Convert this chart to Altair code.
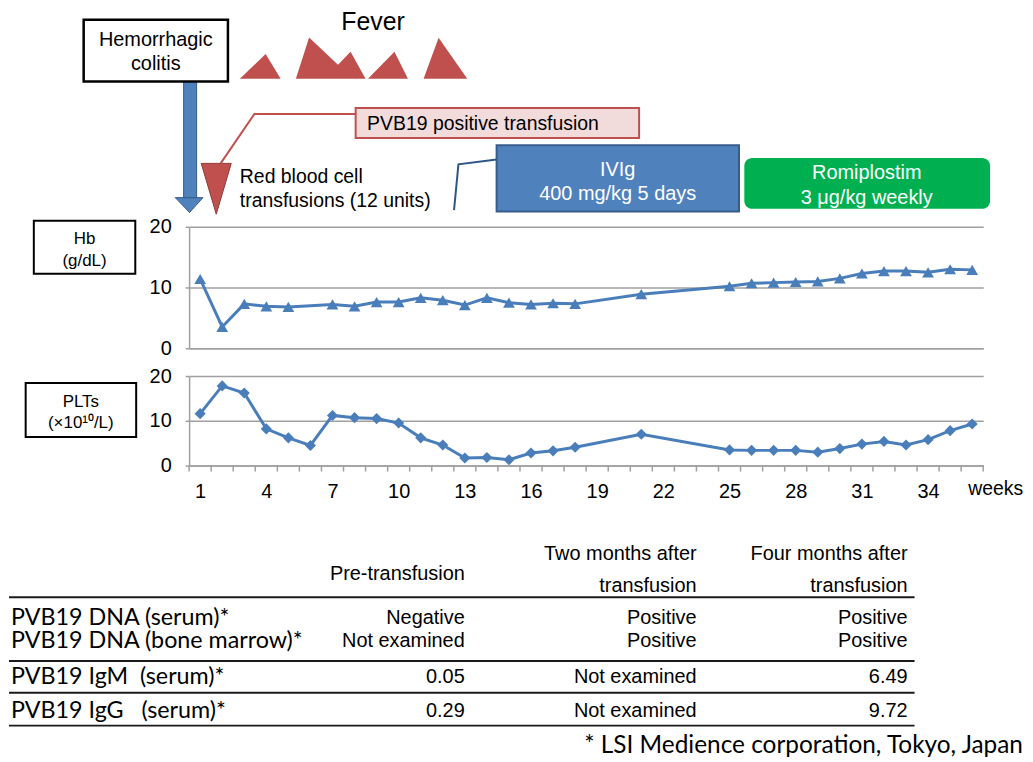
import altair as alt
import pandas as pd

# ---------------- data ----------------
hb_week = [1, 2, 3, 4, 5, 7, 8, 9, 10, 11, 12, 13, 14, 15, 16, 17, 18, 21,
           25, 26, 27, 28, 29, 30, 31, 32, 33, 34, 35, 36]
hb_value = [11.4, 3.5, 7.3, 6.9, 6.8, 7.2, 6.9, 7.6, 7.6, 8.3, 7.9, 7.1, 8.3, 7.5,
            7.2, 7.4, 7.3, 8.9, 10.2, 10.7, 10.8, 10.9, 11.0, 11.5, 12.3, 12.7,
            12.7, 12.5, 13.0, 12.9]
plt_week = [1, 2, 3, 4, 5, 6, 7, 8, 9, 10, 11, 12, 13, 14, 15, 16, 17, 18, 21,
            25, 26, 27, 28, 29, 30, 31, 32, 33, 34, 35, 36]
plt_value = [11.6, 17.8, 16.2, 8.2, 6.2, 4.5, 11.2, 10.7, 10.5, 9.5, 6.2, 4.6, 1.7,
             1.8, 1.3, 2.8, 3.3, 4.1, 7.0, 3.5, 3.4, 3.4, 3.4, 3.0, 3.8, 4.8, 5.4,
             4.6, 5.8, 7.8, 9.3]
x_label_weeks = [1, 4, 7, 10, 13, 16, 19, 22, 25, 28, 31, 34]
category_edges = [w + 0.5 for w in range(0, 37)]

# fever episodes: week and height of the fever curve
fever_episode = [1, 1, 1, 2, 2, 2, 2, 2, 3, 3, 3, 4, 4, 4]
fever_week = [2.80, 3.97, 4.65, 5.34, 5.94, 7.25, 7.82, 8.50, 8.61, 9.81, 10.42,
              11.13, 11.81, 13.11]
fever_level = [0, 25, 0, 0, 41.6, 14, 27.3, 0, 0, 27.3, 0, 0, 41.3, 0]

# treatments (start / end week)
ivig_weeks = [14.44, 25.43]
romi_weeks = [25.67, 36.81]

# table
col_header_1 = ["", "Two months after", "Four months after"]
col_header_2 = ["Pre-transfusion", "transfusion", "transfusion"]
row_labels = ["PVB19 DNA (serum)*", "PVB19 DNA (bone marrow)*",
              "PVB19 IgM\u00a0\u00a0(serum)*", "PVB19 IgG\u00a0\u00a0\u00a0(serum)*"]
pre_values = ["Negative", "Not examined", "0.05", "0.29"]
two_values = ["Positive", "Positive", "Not examined", "Not examined"]
four_values = ["Positive", "Positive", "6.49", "9.72"]
footnote = "* LSI Medience corporation, Tokyo, Japan"

# ---------------- style / layout ----------------
BLUE = "#4A7EBB"
BOXBLUE = "#4F81BD"
DARKBLUE = "#385D8A"
RED = "#C0504D"
GRID = "#A0A0A0"
FONT = "Liberation Sans"
TFONT = "Lato"

W = 798
ANN_H = 190
HB_H = 122
PLT_H = 90
TBL_H = 260
GAP = 28

xs = alt.Scale(domain=[0.5, 36.5], nice=False, zero=False)

# ---------------- annotation panel ----------------
ya = alt.Scale(domain=[0, ANN_H], reverse=True, nice=False, zero=False)
FEVER_BASE = 69.3

fever_df = pd.DataFrame({"ep": fever_episode, "week": fever_week, "level": fever_level})
fever = alt.Chart(fever_df).transform_calculate(
    top=f"{FEVER_BASE} - datum.level", base=f"{FEVER_BASE}"
).mark_area(color=RED, orient="vertical").encode(
    x=alt.X("week:Q", scale=xs, axis=None),
    y=alt.Y("top:Q", scale=ya, axis=None, stack=None),
    y2="base:Q",
    detail="ep:N",
)

boxes_df = pd.DataFrame({
    "x0": [0.25, -4.28, 8.05, ivig_weeks[0]],
    "x1": [0.84, 2.26, 20.90, ivig_weeks[1]],
    "y0": [70.3, 10, 98.7, 136],
    "y1": [188.7, 72, 128.7, 202.7],
    "fill": [BOXBLUE, "white", "#F2DCDB", BOXBLUE],
    "stroke": [DARKBLUE, "black", RED, DARKBLUE],
    "sw": [1, 2.5, 2, 2],
})
boxes = alt.Chart(boxes_df).mark_rect().encode(
    x=alt.X("x0:Q", scale=xs, axis=None), x2="x1:Q",
    y=alt.Y("y0:Q", scale=ya, axis=None), y2="y1:Q",
    fill=alt.Fill("fill:N", scale=None),
    stroke=alt.Stroke("stroke:N", scale=None),
    strokeWidth=alt.StrokeWidth("sw:Q", scale=None),
)

romi_df = pd.DataFrame({"x0": [romi_weeks[0]], "x1": [romi_weeks[1]], "y0": [149], "y1": [200]})
romi = alt.Chart(romi_df).mark_rect(color="#00B050", cornerRadius=8).encode(
    x=alt.X("x0:Q", scale=xs, axis=None), x2="x1:Q",
    y=alt.Y("y0:Q", scale=ya, axis=None), y2="y1:Q",
)

tri_df = pd.DataFrame({
    "id": ["arrow"] * 3 + ["rbc"] * 3,
    "x": [-0.13, 0.52, 1.13, 1.05, 1.73, 2.41],
    "top": [188.7] * 3 + [154.3] * 3,
    "tip": [188.7, 203.7, 188.7, 154.3, 205.3, 154.3],
    "fill": [BOXBLUE] * 3 + [RED] * 3,
    "stroke": [DARKBLUE] * 3 + ["#8C3836"] * 3,
})
tris = alt.Chart(tri_df).mark_area(orient="vertical", strokeWidth=1).encode(
    x=alt.X("x:Q", scale=xs, axis=None),
    y=alt.Y("top:Q", scale=ya, axis=None, stack=None),
    y2="tip:Q",
    detail="id:N",
    fill=alt.Fill("fill:N", scale=None),
    stroke=alt.Stroke("stroke:N", scale=None),
)

conn_df = pd.DataFrame({
    "id": ["pvb"] * 3 + ["ivig"] * 3,
    "x": [1.93, 3.46, 8.05, 12.51, 12.71, 14.44],
    "y": [154.3, 104.7, 104.7, 201.3, 155.3, 150.3],
    "col": [RED] * 3 + ["#2F5587"] * 3,
})
conns = alt.Chart(conn_df).mark_line(strokeWidth=2).encode(
    x=alt.X("x:Q", scale=xs, axis=None),
    y=alt.Y("y:Q", scale=ya, axis=None),
    detail="id:N",
    color=alt.Color("col:N", scale=None),
)

annc_df = pd.DataFrame({
    "x": [8.84, -1.01, -1.01, 19.93, 19.93, 31.22, 31.22],
    "y": [12.5, 30, 54, 161, 185, 164, 189],
    "text": ["Fever", "Hemorrhagic", "colitis", "IVIg", "400 mg/kg 5 days",
             "Romiplostim", "3 \u03bcg/kg weekly"],
    "fs": [25, 20, 20, 20, 20, 20, 20],
    "col": ["black", "black", "black", "white", "white", "white", "white"],
})
annc = alt.Chart(annc_df).mark_text(font=FONT, align="center", baseline="middle").encode(
    x=alt.X("x:Q", scale=xs, axis=None),
    y=alt.Y("y:Q", scale=ya, axis=None),
    text="text:N",
    size=alt.Size("fs:Q", scale=None),
    color=alt.Color("col:N", scale=None),
)
annl_df = pd.DataFrame({
    "x": [8.57, 2.80, 2.80],
    "y": [114.3, 167.7, 192],
    "text": ["PVB19 positive transfusion", "Red blood cell", "transfusions (12 units)"],
})
annl = alt.Chart(annl_df).mark_text(font=FONT, fontSize=19.5, align="left",
                                    baseline="middle", color="black").encode(
    x=alt.X("x:Q", scale=xs, axis=None),
    y=alt.Y("y:Q", scale=ya, axis=None),
    text="text:N",
)

ann = alt.layer(fever, tris, boxes, romi, conns, annc, annl).properties(width=W, height=ANN_H)

# ---------------- common axis styles ----------------
def y_axis():
    return alt.Axis(values=[0, 10, 20], title=None, grid=True, gridColor=GRID,
                    gridWidth=1.5, domainColor=GRID, domainWidth=1.5, tickColor=GRID,
                    tickSize=4, tickWidth=1.5, labelPadding=14, labelFontSize=20,
                    labelFont=FONT, labelColor="black")

def label_box(x0, x1, y0, y1, texts, ys, xc, yscale):
    bdf = pd.DataFrame({"x0": [x0], "x1": [x1], "y0": [y0], "y1": [y1]})
    b = alt.Chart(bdf).mark_rect(fill="white", stroke="black", strokeWidth=2).encode(
        x=alt.X("x0:Q", scale=xs), x2="x1:Q",
        y=alt.Y("y0:Q", scale=yscale), y2="y1:Q",
    )
    tdf = pd.DataFrame({"x": [xc] * len(texts), "y": ys, "text": texts})
    t = alt.Chart(tdf).mark_text(font=FONT, fontSize=17, color="black").encode(
        x=alt.X("x:Q", scale=xs), y=alt.Y("y:Q", scale=yscale), text="text:N",
    )
    return [b, t]

# ---------------- Hb panel ----------------
yh = alt.Scale(domain=[0, 20], nice=False, zero=False)
hb_df = pd.DataFrame({"week": hb_week, "hb": hb_value})
hb_line = alt.Chart(hb_df).mark_line(
    color=BLUE, strokeWidth=3,
    point=alt.OverlayMarkDef(shape="triangle-up", size=140, filled=True, fill=BLUE, strokeWidth=0),
).encode(
    x=alt.X("week:Q", scale=xs, axis=alt.Axis(title=None, labels=False, ticks=False, grid=False,
                                              domainColor=GRID, domainWidth=1.5)),
    y=alt.Y("hb:Q", scale=yh, axis=y_axis()),
)
hb = alt.layer(hb_line, *label_box(-6.54, -1.94, 20.98, 12.25, ["Hb", "(g/dL)"],
                                   [17.98, 14.43], -4.24, yh)).properties(width=W, height=HB_H)

# ---------------- PLT panel ----------------
yp = alt.Scale(domain=[0, 20], nice=False, zero=False)
plt_df = pd.DataFrame({"week": plt_week, "plt": plt_value})
plt_line = alt.Chart(plt_df).mark_line(
    color=BLUE, strokeWidth=3,
    point=alt.OverlayMarkDef(shape="diamond", size=125, filled=True, fill=BLUE, strokeWidth=0),
).encode(
    x=alt.X("week:Q", scale=xs, axis=alt.Axis(title=None, values=x_label_weeks, ticks=False,
                                              grid=False, domainColor=GRID, domainWidth=1.5,
                                              labelPadding=16, labelFontSize=20, labelFont=FONT,
                                              labelColor="black")),
    y=alt.Y("plt:Q", scale=yp, axis=y_axis()),
)
ticks = alt.Chart(pd.DataFrame({"t": category_edges})).mark_rule(color=GRID, strokeWidth=1.5).encode(
    x=alt.X("t:Q", scale=xs),
    y=alt.value(PLT_H),
    y2=alt.value(PLT_H + 6),
)
weeks_lbl = alt.Chart(pd.DataFrame({"t": ["weeks"]})).mark_text(
    font=FONT, fontSize=19.5, align="left", baseline="middle", color="black"
).encode(text="t:N", x=alt.value(W - 15), y=alt.value(PLT_H + 24))
pl = alt.layer(plt_line, ticks, weeks_lbl,
               *label_box(-6.91, -1.90, 18.45, 6.36, ["PLTs", "(\u00d710\u00b9\u2070/L)"],
                          [14.24, 9.59], -4.41, yp)).properties(width=W, height=PLT_H)

# ---------------- table panel ----------------
xt = alt.Scale(domain=[0, W], nice=False, zero=False)
yt = alt.Scale(domain=[0, TBL_H], reverse=True, nice=False, zero=False)
COL_X = [277, 510, 722]
ROW_Y = [125, 148.7, 184.3, 218.7]
HEAD_Y = [61, 93]
LABEL_X = -179

vals = []
for ci, col in enumerate([pre_values, two_values, four_values]):
    for ri, v in enumerate(col):
        vals.append({"x": COL_X[ci], "y": ROW_Y[ri], "text": v})
for ci in range(3):
    if col_header_1[ci]:
        vals.append({"x": COL_X[ci], "y": HEAD_Y[0], "text": col_header_1[ci]})
        vals.append({"x": COL_X[ci], "y": HEAD_Y[1], "text": col_header_2[ci]})
    else:
        vals.append({"x": COL_X[ci], "y": (HEAD_Y[0] + HEAD_Y[1]) / 2 + 4, "text": col_header_2[ci]})
vals_df = pd.DataFrame(vals)
tvals = alt.Chart(vals_df).mark_text(font=FONT, fontSize=20, align="right", baseline="middle",
                                     color="black").encode(
    x=alt.X("x:Q", scale=xt, axis=None), y=alt.Y("y:Q", scale=yt, axis=None), text="text:N")

labs_df = pd.DataFrame({"x": [LABEL_X] * 4, "y": ROW_Y, "text": row_labels})
tlabs = alt.Chart(labs_df).mark_text(font=TFONT, fontSize=23.4, align="left", baseline="middle",
                                     color="black").encode(
    x=alt.X("x:Q", scale=xt, axis=None), y=alt.Y("y:Q", scale=yt, axis=None), text="text:N")

foot_df = pd.DataFrame({"x": [397], "y": [254], "text": [footnote]})
tfoot = alt.Chart(foot_df).mark_text(font=TFONT, fontSize=24.5, align="left", baseline="middle",
                                     color="black").encode(
    x=alt.X("x:Q", scale=xt, axis=None), y=alt.Y("y:Q", scale=yt, axis=None), text="text:N")

rules_df = pd.DataFrame({"x0": [-181] * 4, "x1": [729] * 4, "y": [104.3, 168.3, 200.3, 233.3]})
trules = alt.Chart(rules_df).mark_rule(color="#1A1A1A", strokeWidth=2).encode(
    x=alt.X("x0:Q", scale=xt, axis=None), x2="x1:Q", y=alt.Y("y:Q", scale=yt, axis=None))

tbl = alt.layer(trules, tvals, tlabs, tfoot).properties(width=W, height=TBL_H)

chart = alt.vconcat(ann, hb, pl, tbl, spacing=GAP, bounds="flush").resolve_scale(
    x="independent", y="independent"
).properties(padding=0, background="white").configure_view(strokeWidth=0)

chart.save("out.html", embed_options={"renderer": "svg", "actions": False})
